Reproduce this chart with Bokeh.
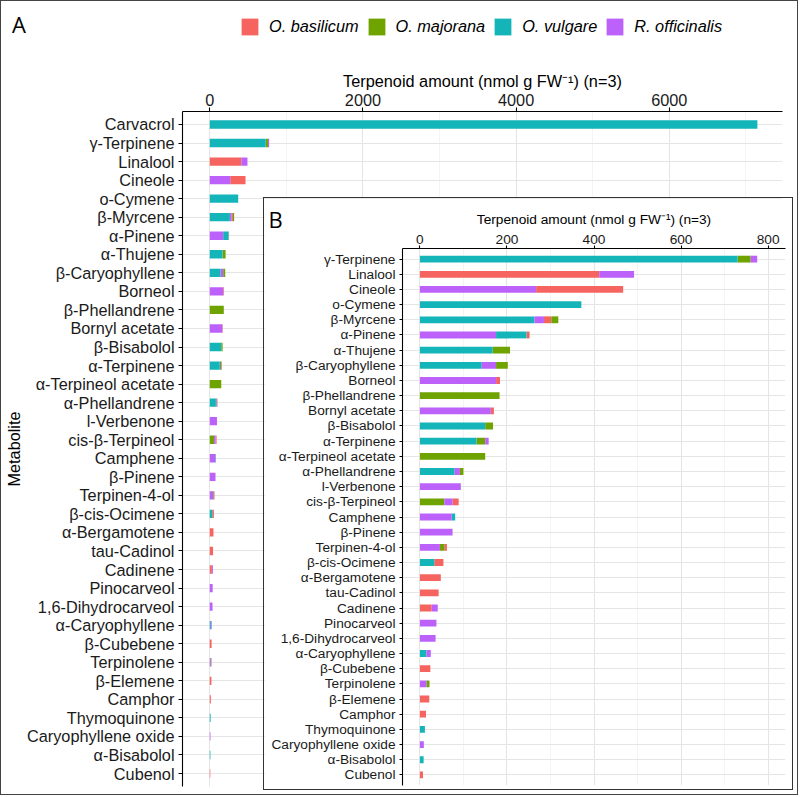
from bokeh.plotting import figure
from bokeh.models import (Range1d, FactorRange, FixedTicker, Legend, LegendItem,
                          ColumnDataSource, Label)
from bokeh.embed import file_html
from bokeh.resources import INLINE

# ---------------- data ----------------
metabolites = ["Carvacrol", "γ-Terpinene", "Linalool", "Cineole", "o-Cymene", "β-Myrcene",
               "α-Pinene", "α-Thujene", "β-Caryophyllene", "Borneol", "β-Phellandrene",
               "Bornyl acetate", "β-Bisabolol", "α-Terpinene", "α-Terpineol acetate",
               "α-Phellandrene", "l-Verbenone", "cis-β-Terpineol", "Camphene", "β-Pinene",
               "Terpinen-4-ol", "β-cis-Ocimene", "α-Bergamotene", "tau-Cadinol", "Cadinene",
               "Pinocarveol", "1,6-Dihydrocarveol", "α-Caryophyllene", "β-Cubebene",
               "Terpinolene", "β-Elemene", "Camphor", "Thymoquinone", "Caryophyllene oxide",
               "α-Bisabolol", "Cubenol"]
basilicum   = [0, 0, 412, 200, 0, 17, 7, 0, 0, 9, 0, 7, 0, 0, 0, 0, 0, 14, 0, 0,
               6, 21, 48, 43, 27, 0, 0, 0, 24, 0, 21.5, 14, 0, 0, 0, 7]
majorana    = [0, 30, 0, 0, 0, 16, 0, 40, 27, 0, 183, 0, 18, 20, 150, 8, 0, 56, 0, 0,
               10, 0, 0, 0, 0, 0, 0, 0, 0, 7, 0, 0, 0, 0, 0, 0]
vulgare     = [7150, 730, 0, 0, 371, 263, 70, 167, 142, 0, 0, 0, 150, 130, 0, 80, 0, 0, 8, 0,
               0, 33, 0, 0, 0, 0, 0, 15, 0, 0, 0, 0, 11.5, 0, 8.5, 0]
officinalis = [0, 15, 80, 267, 0, 22, 175, 0, 33, 175, 0, 163, 0, 8, 0, 12, 94, 19, 73, 75,
               46, 0, 0, 0, 14, 38, 36, 10, 0, 15, 0, 0, 0, 9, 0, 0]
species = ["O. basilicum", "O. majorana", "O. vulgare", "R. officinalis"]
colors = ["#F5645F", "#6FA300", "#14B5B9", "#BC62FA"]

main_ticks = [0, 2000, 4000, 6000]
main_minor = [1000, 3000, 5000, 7000]
inset_ticks = [0, 200, 400, 600, 800]
inset_minor = [100, 300, 500, 700]

x_title = "Terpenoid amount (nmol g FW⁻¹) (n=3)"
FONT = "Liberation Sans"


def stacked_sources(names):
    series = [basilicum, majorana, vulgare, officinalis]
    out = [dict(y=[], left=[], right=[]) for _ in species]
    for name in names:
        i = metabolites.index(name)
        vals = [s[i] for s in series]
        order = sorted(range(4), key=lambda k: -vals[k])
        acc = 0.0
        for k in order:
            if vals[k] > 0:
                out[k]["y"].append(name)
                out[k]["left"].append(acc)
                out[k]["right"].append(acc + vals[k])
                acc += vals[k]
    return [ColumnDataSource(d) for d in out]


def style(fig, tick_size, tick_out, label_standoff):
    fig.background_fill_color = "white"
    fig.border_fill_color = "white"
    fig.outline_line_color = None
    for ax in (fig.xaxis[0], fig.yaxis[0]):
        ax.axis_line_color = "black"
        ax.axis_line_width = 1.1
        ax.major_tick_line_color = "black"
        ax.major_tick_line_width = 1.1
        ax.major_tick_out = tick_out
        ax.major_tick_in = 0
        ax.minor_tick_line_color = None
        ax.major_label_text_font = FONT
        ax.major_label_text_font_size = tick_size
        ax.major_label_text_color = "#1a1a1a"
        ax.axis_label_text_font = FONT
        ax.axis_label_text_font_style = "normal"
        ax.axis_label_text_color = "black"
        ax.major_label_standoff = label_standoff
    fig.xgrid.grid_line_color = "#E5E5E5"
    fig.xgrid.grid_line_width = 1.1
    fig.xgrid.minor_grid_line_color = "#EDEDED"
    fig.xgrid.minor_grid_line_width = 0.6
    fig.ygrid.grid_line_color = "#E5E5E5"
    fig.ygrid.grid_line_width = 1.1


# ---------------- main panel (A) ----------------
p = figure(width=798, height=795,
           x_range=Range1d(-356, 7478),
           y_range=FactorRange(factors=metabolites[::-1], range_padding=0.2,
                               range_padding_units="absolute"),
           x_axis_location="above", output_backend="svg", toolbar_location=None,
           min_border_left=180, min_border_right=17, min_border_top=110, min_border_bottom=10)
style(p, "16.3px", 4, 2)
p.xaxis.ticker = FixedTicker(ticks=main_ticks, minor_ticks=main_minor)
p.xgrid.ticker = FixedTicker(ticks=main_ticks, minor_ticks=main_minor)
p.xaxis.axis_label = x_title
p.xaxis.axis_label_text_font_size = "16.3px"
p.xaxis.axis_label_standoff = 1
p.yaxis.axis_label = "Metabolite"
p.yaxis.axis_label_text_font_size = "16.3px"
p.yaxis.axis_label_standoff = 1
p.yaxis.major_label_standoff = 4

main_sources = stacked_sources(metabolites)
for k, src in enumerate(main_sources):
    p.hbar(y="y", left="left", right="right", height=0.45, source=src,
           fill_color=colors[k], line_color=None)
p.styles = {"border": "1px solid #444"}

# ---------------- inset panel (B) ----------------
inset_names = metabolites[1:]
q = figure(width=530, height=593,
           x_range=Range1d(-40, 840),
           y_range=FactorRange(factors=inset_names[::-1], range_padding=0.2,
                               range_padding_units="absolute"),
           x_axis_location="above", output_backend="svg", toolbar_location=None,
           min_border_left=138, min_border_right=9, min_border_top=50, min_border_bottom=6)
style(q, "13.7px", 3, 1)
q.xaxis.ticker = FixedTicker(ticks=inset_ticks, minor_ticks=inset_minor)
q.xgrid.ticker = FixedTicker(ticks=inset_ticks, minor_ticks=inset_minor)
q.xaxis.axis_label = x_title
q.xaxis.axis_label_text_font_size = "13.7px"
q.xaxis.axis_label_standoff = 5
q.yaxis.major_label_standoff = 4

for k, src in enumerate(stacked_sources(inset_names)):
    q.hbar(y="y", left="left", right="right", height=0.45, source=src,
           fill_color=colors[k], line_color=None)
q.styles = {"position": "absolute", "left": "263px", "top": "197px",
            "border": "1.5px solid #333", "z-index": "10"}

# ---------------- overlay: legend and panel letters ----------------
# the overlay shares the data sources; its x range keeps the bars out of view,
# so only the legend keys (drawn from those renderers) and the letters show.
o = figure(width=800, height=797, x_range=Range1d(-20000, -10000),
           y_range=FactorRange(factors=metabolites[::-1]),
           x_axis_type=None, min_border=0,
           output_backend="svg", toolbar_location=None)
o.yaxis.visible = False
o.grid.visible = False
o.background_fill_alpha = 0
o.border_fill_alpha = 0
o.outline_line_color = None
keys = []
for k, src in enumerate(main_sources):
    keys.append(o.hbar(y="y", left="left", right="right", height=0.45, source=src,
                       fill_color=colors[k], line_color=None))
legend = Legend(items=[LegendItem(label=s, renderers=[r]) for s, r in zip(species, keys)],
                orientation="horizontal", location=(239, 760), glyph_width=21, glyph_height=21,
                label_standoff=9, spacing=7, padding=0, margin=0,
                border_line_color=None, background_fill_alpha=0,
                label_text_font=FONT, label_text_font_style="italic",
                label_text_font_size="16.3px", label_text_color="black")
o.add_layout(legend)
o.add_layout(Label(x=11.5, y=797 - 23, x_units="screen", y_units="screen", text="A",
                   text_font="Open Sans", text_font_size="22px",
                   text_color="black", text_baseline="alphabetic"))
o.add_layout(Label(x=268, y=797 - 218, x_units="screen", y_units="screen", text="B",
                   text_font="Open Sans", text_font_size="22px",
                   text_color="black", text_baseline="alphabetic"))
o.styles = {"position": "absolute", "left": "0px", "top": "0px", "z-index": "20",
            "pointer-events": "none"}

open("out.html", "w").write(file_html([p, q, o], INLINE))
